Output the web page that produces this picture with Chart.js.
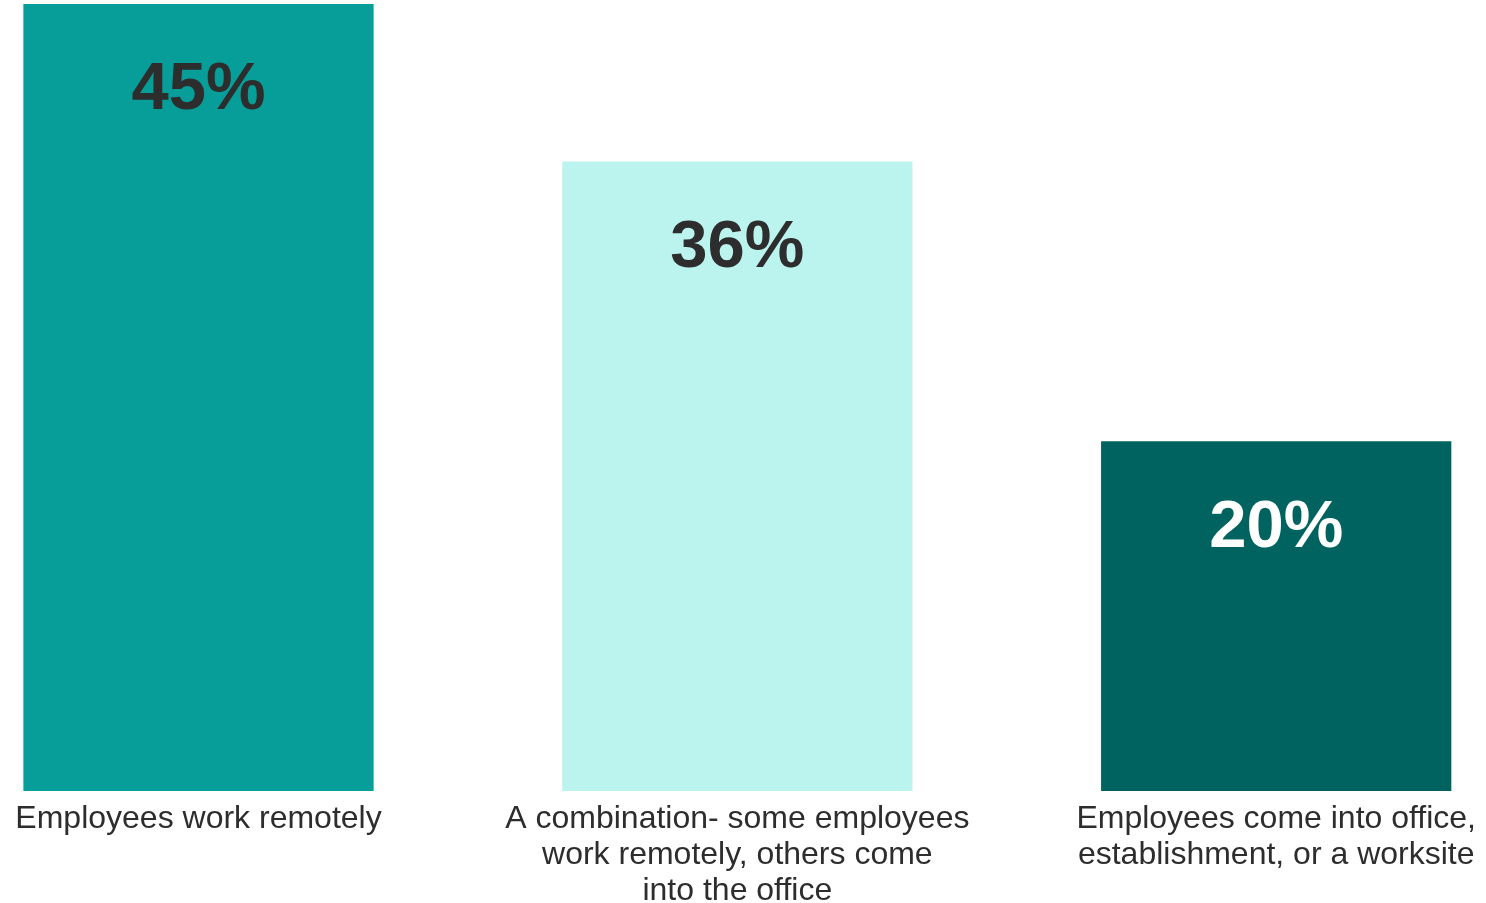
<!DOCTYPE html>
<html>
<head>
<meta charset="utf-8">
<script src="https://cdn.jsdelivr.net/npm/chart.js@4"></script>
<style>
  html, body { margin: 0; padding: 0; background: #ffffff; }
  #wrap { width: 1486px; height: 903px; position: relative; }
</style>
</head>
<body>
<div id="wrap"><canvas id="c"></canvas></div>
<script>
// Work arrangement categories (multi-line labels)
const categories = [
  ["Employees work remotely"],
  ["A combination- some employees", "work remotely, others come", "into the office"],
  ["Employees come into office,", "establishment, or a worksite"]
];
// Share of respondents, percent
const shares = [45, 36, 20];
const barColors = ["#079e99", "#bbf3ef", "#00635f"];
const valueLabelColors = ["#2d2d2d", "#2d2d2d", "#ffffff"];

const FONT = "'Liberation Sans', Arial, Helvetica, sans-serif";

// Writes the percentage inside the top of each bar
const valueLabels = {
  id: "valueLabels",
  afterDatasetsDraw(chart) {
    const ctx = chart.ctx;
    const meta = chart.getDatasetMeta(0);
    ctx.save();
    ctx.font = "bold 67px " + FONT;
    ctx.textAlign = "center";
    ctx.textBaseline = "middle";
    meta.data.forEach((bar, i) => {
      ctx.fillStyle = valueLabelColors[i];
      ctx.fillText(shares[i] + "%", bar.x, bar.y + 87);
    });
    ctx.restore();
  }
};

new Chart(document.getElementById("c"), {
  type: "bar",
  data: {
    labels: categories,
    datasets: [{
      data: shares,
      backgroundColor: barColors,
      borderWidth: 0,
      categoryPercentage: 1,
      barPercentage: 0.65,
      clip: false
    }]
  },
  options: {
    responsive: true,
    maintainAspectRatio: false,
    animation: false,
    layout: { padding: { top: 4, left: 198.5, right: 208.5, bottom: 0 } },
    plugins: { legend: { display: false }, tooltip: { enabled: false } },
    scales: {
      x: {
        offset: false,
        grid: { display: false, drawTicks: false },
        border: { display: false },
        ticks: {
          color: "#2d2d2d",
          font: { family: FONT, size: 32, lineHeight: 1.125 },
          padding: 10,
          maxRotation: 0,
          autoSkip: false
        },
        afterFit(scale) { scale.height = 112; }
      },
      y: {
        display: false,
        min: 0,
        max: 45
      }
    }
  },
  plugins: [valueLabels]
});
</script>
</body>
</html>
